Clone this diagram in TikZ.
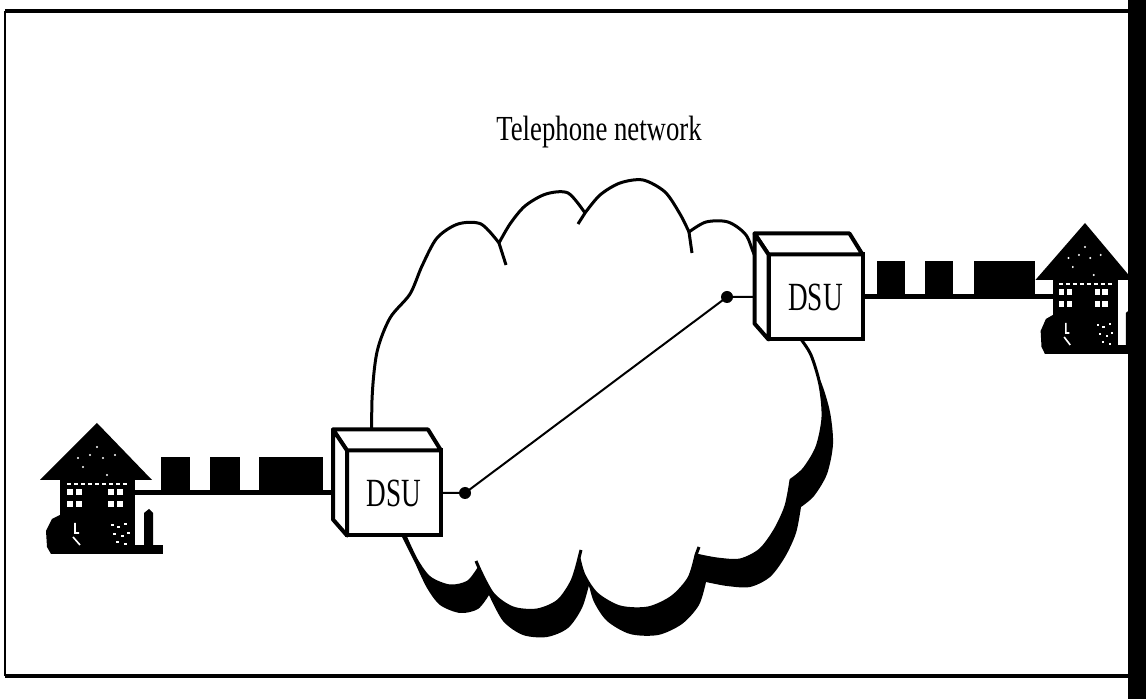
\documentclass[tikz,border=0pt]{standalone}
\usepackage{fontspec}
\setmainfont{Liberation Serif}
\usetikzlibrary{positioning}

% squeezed type, as set in the figure
\newcommand{\narrowtext}[1]{\scalebox{.68}[1]{#1}}

% outline of the network cloud (pixel units)
\newcommand{\cloudline}{%
  plot[smooth] coordinates {(372,470) (372,400) (377,352) (390,318) (410,294) (422,266) (437,238) (458,224) (481,224) (499,243)}
  -- plot[smooth] coordinates {(499,243) (510,224) (525,206) (546,194) (568,193) (585,213)}
  -- plot[smooth] coordinates {(585,213) (600,195) (620,183) (643,180) (665,192) (680,214) (689,232)}
  -- plot[smooth] coordinates {(689,232) (706,222) (728,222) (746,235) (757,260) (785,300) (800,338)}
  -- plot[smooth] coordinates {(800,338) (811,355) (820,385) (823,417) (817,447) (804,469) (791,480)}
  -- plot[smooth] coordinates {(791,480) (786,506) (775,530) (760,550) (740,560) (717,559) (696,555)}
  -- plot[smooth] coordinates {(696,555) (689,578) (672,597) (648,608) (620,607) (597,594) (584,575) (579,558)}
  -- plot[smooth] coordinates {(579,558) (572,581) (558,601) (537,610) (513,608) (493,594) (479,568)}
  -- plot[smooth] coordinates {(479,568) (468,582) (450,586) (430,578) (417,561) (406,538)}
  -- cycle}

\tikzset{
  dsubox/.style={draw, fill=white, line width=2pt, minimum width=47pt, minimum height=42.5pt,
    inner sep=0pt, outer sep=0pt, font=\fontsize{20}{22}\selectfont},
  face/.style={fill=white, line width=2pt, line join=round},
  packet/.style={fill=black, inner sep=0pt, outer sep=0pt, minimum height=19pt, anchor=south west},
  wire/.style={line width=2.5pt},
  link/.style={line width=1pt},
  pics/house/.style={code={
    % roof, walls and ground
    \fill (0,0) -- (-57,57) -- (55,57) -- cycle;
    \fill (-37,56) rectangle (38,130);
    \fill (-46,122) rectangle (66,131);
    \fill (-37,92) -- (-45,96) -- (-51,108) -- (-50,124) -- (-46,131) -- (-37,131) -- cycle;
    \fill (47,90) -- (52,86) -- (56,90) -- (56,126) -- (47,126) -- cycle;
    % windows
    \foreach \wx in {-30,11}
      \foreach \px/\py in {0/0,9/0,0/12,9/12}
        \fill[white] (\wx+\px,66+\py) rectangle ++(6,6);
    % trim and roof speckles
    \draw[white, line width=.8pt, dash pattern=on 2pt off 1.5pt] (-30,61) -- (31,61);
    \foreach \sx/\sy in {-19/35,-7/32,0/24,6/35,18/32,10/52,-14/44}
      \fill[white] (\sx,\sy) circle (1.2);
    % doors
    \draw[white, line width=.8pt] (-22,100) -- (-22,110) -- (-18,110) (-24,114) -- (-17,122);
    \foreach \sx/\sy in {14/101,20/103,27/100,16/110,24/112,30/109,19/118,27/120}
      \fill[white] (\sx,\sy) rectangle ++(2.5,2.5);
  }}
}

\begin{document}
\begin{tikzpicture}[x=0.5pt, y=-0.5pt]
  \useasboundingbox (0,0) rectangle (1146,699);

  % frame
  \draw[line width=2pt] (1128,11) -- (5,11);
  \draw[line width=1pt] (5,11) -- (5,676);
  \draw[line width=2pt] (5,676) -- (1128,676);

  \node[anchor=base, font=\fontsize{17.6}{20}\selectfont] (net) at (599,141) {\scalebox{.76}[1]{Telephone network}};

  % cloud with its shadow
  \fill[shift={(10,27)}] \cloudline;
  \filldraw[fill=white, line width=1.5pt, line join=round] \cloudline;
  \draw[line width=1.5pt] (499,243) -- (506,265) (585,213) -- (578,224) (689,232) -- (692,253)
    (696,555) -- (699,547) (579,558) -- (581,550) (479,568) -- (476,561);

  % the two service units
  \node[dsubox] (dsuL) at (394,493) {\narrowtext{DSU}};
  \node[dsubox] (dsuR) at (815.5,297) {\narrowtext{DSU}};
  \foreach \b in {dsuL,dsuR} {
    \filldraw[face] (\b.north west) -- ++(-14,-21) -- ++(95,0) -- (\b.north east) -- cycle;
    \filldraw[face] (\b.north west) -- ++(-14,-21) -- ++(0,90) -- (\b.south west) -- cycle;
  }

  \coordinate (dotL) at (465,493);
  \coordinate (dotR) at (727,297);
  \draw[link] (dsuL.east) -- (dotL) -- (dotR) -- ([xshift=-7pt]dsuR.west);
  \fill (dotL) circle (6);
  \fill (dotR) circle (6);

  % local loops
  \coordinate (houseL) at (135,493);
  \coordinate (houseR) at (1053,297);
  \draw[wire] (houseL) -- ([xshift=-7pt]dsuL.west);
  \draw[wire] (dsuR.east) -- (houseR);
  \foreach \x/\w [count=\i] in {161/14.5,210/15,259/32}
    \node[packet, minimum width=\w pt] (pL\i) at (\x,495) {};
  \foreach \x/\w [count=\i] in {877/14,925/14,974/30.5}
    \node[packet, minimum width=\w pt] (pR\i) at (\x,299) {};

  \pic at (97,423) {house};
  \pic[xscale=.87] at (1085,223) {house};

  \fill (1128,0) rectangle (1146,699);
\end{tikzpicture}
\end{document}
